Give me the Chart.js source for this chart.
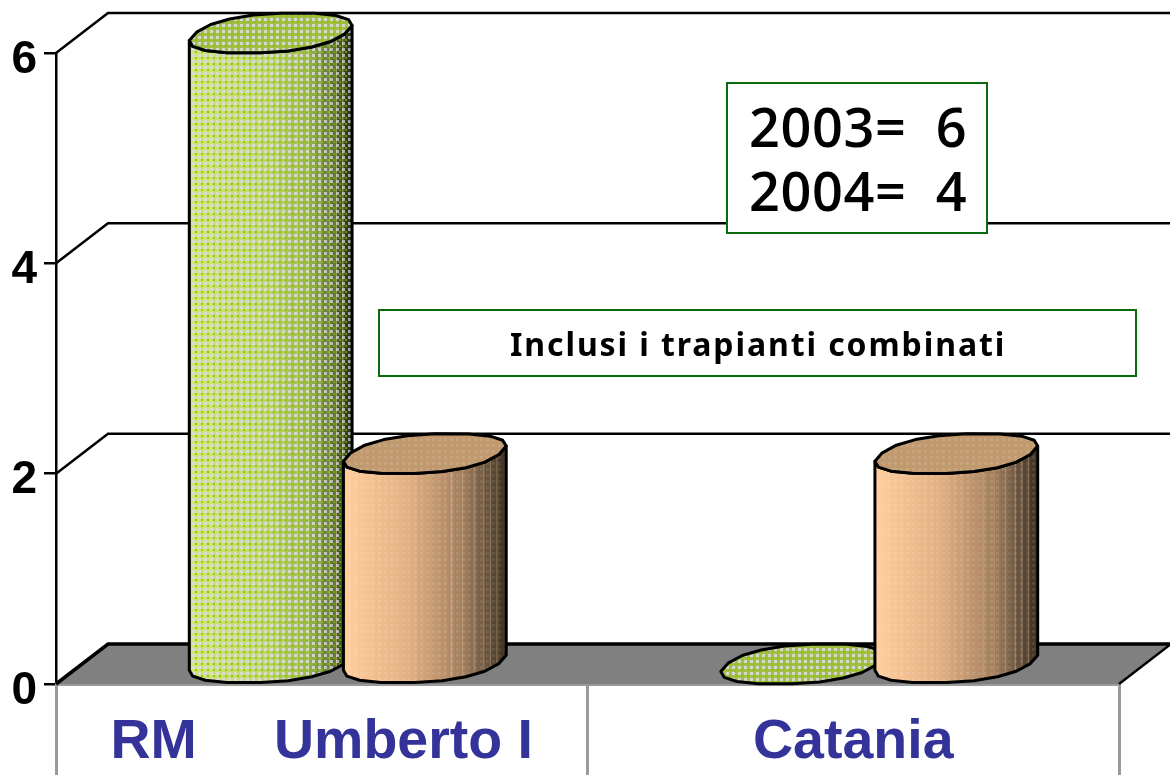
<!DOCTYPE html>
<html><head><meta charset="utf-8">
<style>html,body{margin:0;padding:0;background:#fff;overflow:hidden}canvas{display:block}</style>
<script src="https://cdn.jsdelivr.net/npm/chart.js@4"></script>
</head><body>
<canvas id="c" width="1170" height="775"></canvas>
<script>
const categories = ['RM     Umberto I', 'Catania'];
const series2003 = [6, 0];
const series2004 = [2, 2];
const yTicks = [0, 2, 4, 6];
const yearNotes = ['2003=  6', '2004=  4'];
const footNote = 'Inclusi i trapianti combinati';

const DEPTH_X = 52, DEPTH_Y = 40;
const looks = [
  {stops:[[0,[208,232,112]],[0.5,[190,214,100]],[0.72,[156,184,84]],[0.9,[108,130,58]],[1,[60,74,30]]],
   top:'#a3be48', lines:'rgba(225,235,170,.5)', dot:'rgba(218,218,218,.9)', dot2:'rgba(140,195,0,.85)'},
  {stops:[[0,[255,205,155]],[0.4,[226,176,130]],[0.7,[172,134,98]],[0.88,[126,100,74]],[1,[84,68,48]]],
   top:'#c09a6e', lines:'rgba(255,225,190,.3)', dot:'rgba(255,255,255,.1)', dot2:'rgba(255,255,255,0)'}
];
function tile(look){
  const t=document.createElement('canvas');t.width=6;t.height=6;
  const g=t.getContext('2d');
  g.fillStyle=look.dot;g.fillRect(0,0,3,3);
  g.fillStyle=look.dot2;g.fillRect(3,3,2,2);
  return t;
}
function mix(stops,f){
  for(let i=1;i<stops.length;i++){
    if(f<=stops[i][0]){
      const a=stops[i-1],b=stops[i],k=(f-a[0])/(b[0]-a[0]);
      return a[1].map((v,j)=>Math.round(v+(b[1][j]-v)*k));
    }
  }
  return stops[stops.length-1][1];
}
const full=v=>Math.sign(v)*Math.pow(Math.abs(v),0.85);
function cylinder(ctx,el,look){
  const hw=el.width/2*0.975, dx=DEPTH_X/2*0.975, dy=DEPTH_Y/2;
  const cx=el.x+DEPTH_X/2, top=el.y-dy, base=el.base-dy;
  const t0=Math.atan2(DEPTH_X/2,el.width/2), reach=Math.hypot(el.width/2,DEPTH_X/2);
  const P=(t,cy)=>[cx+hw*full(Math.cos(t))+dx*full(Math.sin(t)), cy-dy*full(Math.sin(t))];
  const N=9, front=[];
  for(let i=0;i<=N;i++) front.push(t0-Math.PI+i*Math.PI/N);
  const back=front.map(t=>t+Math.PI);
  ctx.save();ctx.lineJoin='round';ctx.lineWidth=3;ctx.strokeStyle='#000';
  const pattern=ctx.createPattern(tile(look),'repeat');
  if(base-top>1){
    const body=new Path2D();
    const a=P(front[0],top);body.moveTo(a[0],a[1]);
    front.forEach(t=>{const p=P(t,base);body.lineTo(p[0],p[1]);});
    [...front].reverse().forEach(t=>{const p=P(t,top);body.lineTo(p[0],p[1]);});
    body.closePath();
    ctx.save();ctx.clip(body);
    const left=cx-reach,w=reach*2,bands=22;
    for(let i=0;i<bands;i++){
      const x0=left+w*i/bands;
      ctx.fillStyle='rgb('+mix(look.stops,i/(bands-1)).join(',')+')';
      ctx.fillRect(x0,top-40,w/bands+1,base-top+90);
    }
    ctx.fillStyle=pattern;ctx.fillRect(left,top-40,w,base-top+90);
    const shade=ctx.createLinearGradient(left,0,left+w,0);
    shade.addColorStop(0,'rgba(0,0,0,0)');shade.addColorStop(.75,'rgba(0,0,0,0)');shade.addColorStop(1,'rgba(0,0,0,.2)');
    ctx.fillStyle=shade;ctx.fillRect(left,top-40,w,base-top+90);
    ctx.fillStyle=look.lines;
    [.66,.73,.8,.86,.9,.94].forEach(f=>ctx.fillRect(left+w*f,top-40,1,base-top+90));
    ctx.restore();
    ctx.stroke(body);
  }
  const cap=new Path2D();
  [...front,...back].forEach((t,i)=>{const p=P(t,top);i?cap.lineTo(p[0],p[1]):cap.moveTo(p[0],p[1]);});
  cap.closePath();
  ctx.fillStyle=look.top;ctx.fill(cap);
  ctx.fillStyle=pattern;ctx.fill(cap);
  ctx.stroke(cap);
  ctx.restore();
}
const scene={
  id:'scene',
  beforeDatasetsDraw(chart){
    const {ctx,scales:{x,y},chartArea:a}=chart;
    const floorY=y.getPixelForValue(0);
    ctx.save();
    ctx.fillStyle='#808080';
    ctx.beginPath();ctx.moveTo(a.left,floorY);ctx.lineTo(a.left+DEPTH_X,floorY-DEPTH_Y);
    ctx.lineTo(a.right+DEPTH_X,floorY-DEPTH_Y);ctx.lineTo(a.right,floorY);ctx.closePath();ctx.fill();
    ctx.strokeStyle='#000';ctx.lineWidth=3;
    yTicks.forEach(v=>{
      const py=y.getPixelForValue(v);
      ctx.lineWidth=v===0?3.5:2.5;
      ctx.beginPath();ctx.moveTo(a.left,py);ctx.lineTo(a.left+DEPTH_X,py-DEPTH_Y);
      ctx.lineTo(a.right+DEPTH_X,py-DEPTH_Y);ctx.stroke();
    });
    ctx.lineWidth=2.5;
    ctx.beginPath();ctx.moveTo(a.right,floorY);ctx.lineTo(a.right+DEPTH_X,floorY-DEPTH_Y);ctx.stroke();
    ctx.restore();
    chart.data.datasets.forEach((d,i)=>{
      chart.getDatasetMeta(i).data.forEach(el=>cylinder(ctx,el,looks[i]));
    });
  },
  afterDatasetsDraw(chart){
    const ctx=chart.ctx;
    ctx.save();
    ctx.fillStyle='#fff';ctx.strokeStyle='#0a6a10';ctx.lineWidth=2;
    ctx.fillRect(727,83,260,150);ctx.strokeRect(727,83,260,150);
    ctx.fillRect(379,310,757,66);ctx.strokeRect(379,310,757,66);
    ctx.fillStyle='#000';ctx.textBaseline='alphabetic';ctx.textAlign='left';
    ctx.font='600 54px "Open Sans"';ctx.letterSpacing='0.6px';
    ctx.fillText(yearNotes[0],749,147);
    ctx.fillText(yearNotes[1],749,211);
    ctx.font='700 32px "Noto Sans"';ctx.letterSpacing='1.9px';
    ctx.fillText(footNote,510,356);
    ctx.restore();
  }
};
Chart.defaults.animation=false;
new Chart(document.getElementById('c'),{
  type:'bar',
  data:{labels:categories,datasets:[
    {label:'2003',data:series2003,backgroundColor:'rgba(0,0,0,0)',borderWidth:0},
    {label:'2004',data:series2004,backgroundColor:'rgba(0,0,0,0)',borderWidth:0}
  ]},
  plugins:[scene],
  options:{
    responsive:false,animation:false,
    layout:{padding:{top:53,right:51,left:0,bottom:0}},
    categoryPercentage:0.58,barPercentage:1,
    plugins:{legend:{display:false},tooltip:{enabled:false},title:{display:false}},
    scales:{
      y:{min:0,max:6,
        afterFit(s){s.width=56;},
        border:{color:'#000',width:2.5},
        grid:{drawOnChartArea:false,drawTicks:true,tickLength:12,color:'#000',lineWidth:2.5},
        ticks:{stepSize:2,padding:7,labelOffset:7,color:'#000',font:{family:'"Liberation Sans"',weight:'bold',size:46}}
      },
      x:{
        afterFit(s){s.height=91;},
        border:{color:'#9a9a9a',width:3},
        grid:{drawOnChartArea:false,drawTicks:true,tickLength:91,color:'#9a9a9a',lineWidth:3,offset:true},
        ticks:{padding:-66,maxRotation:0,autoSkip:false,color:'#333399',font:{family:'"Liberation Sans"',weight:'bold',size:55.5}}
      }
    }
  }
});
</script>
</body></html>
